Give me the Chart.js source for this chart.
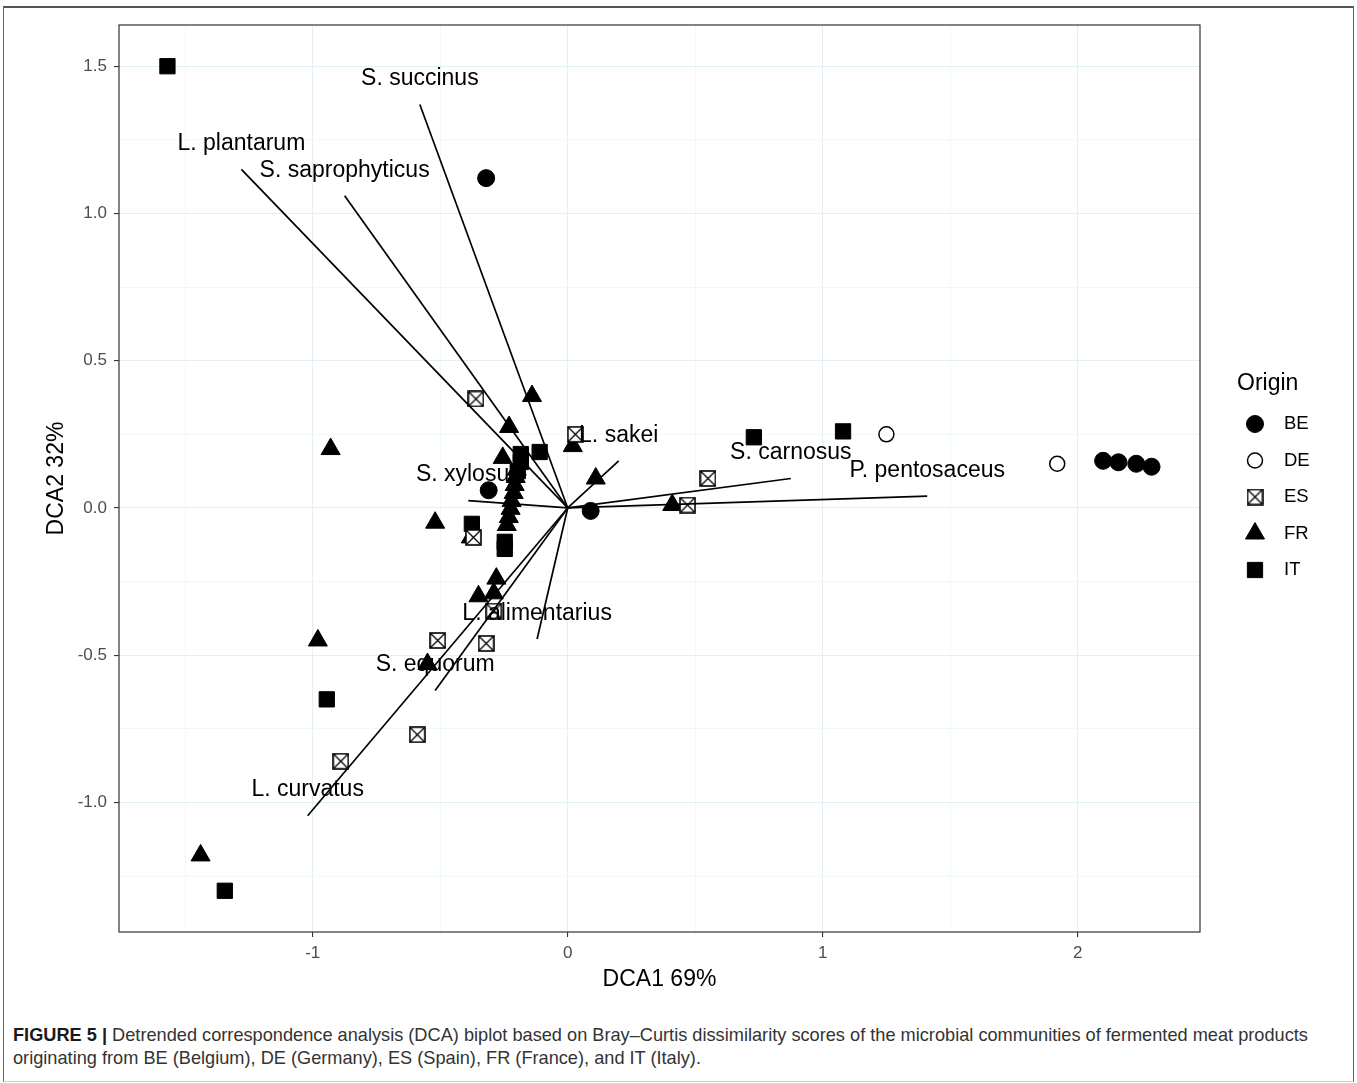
<!DOCTYPE html>
<html lang="en">
<head>
<meta charset="UTF-8">
<title>DCA biplot</title>
<script src="https://cdn.jsdelivr.net/npm/chart.js"></script>
<style>
    body {
        margin: 0;
        background: #fff;
        font-family: 'Liberation Sans', Arial, sans-serif;
    }

    #frame {
        position: absolute;
        left: 3px;
        top: 6px;
        width: 1351px;
        height: 1076px;
        border: 1px solid #666;
        border-top: 2px solid #555;
        border-bottom-color: #ccc;
        box-sizing: border-box;
    }

    #plot {
        position: absolute;
        left: 0;
        top: 0;
    }

    #caption {
        position: absolute;
        left: 13px;
        top: 1024px;
        font-size: 18.2px;
        line-height: 23px;
        color: #333;
        white-space: nowrap;
    }

    #caption b {
        color: #1a1a1a;
    }
</style>
</head>
<body>

<div id="frame"></div>
<canvas id="plot" width="1357" height="1005"></canvas>
<div id="caption"><b>FIGURE 5 |</b> Detrended correspondence analysis (DCA) biplot based on Bray–Curtis dissimilarity scores of the microbial communities of fermented meat products<br>originating from BE (Belgium), DE (Germany), ES (Spain), FR (France), and IT (Italy).</div>

<script>
    // sample scores per origin
    const beX = [-0.32, -0.31, 0.09, 2.10, 2.16, 2.23, 2.29];
    const beY = [1.12, 0.06, -0.01, 0.16, 0.155, 0.15, 0.14];

    const deX = [1.25, 1.92];
    const deY = [0.25, 0.15];

    const esX = [-0.36, 0.03, 0.55, 0.47, -0.37, -0.51, -0.32, -0.59, -0.89, -0.29];
    const esY = [0.37, 0.25, 0.10, 0.01, -0.10, -0.45, -0.46, -0.77, -0.86, -0.35];

    const frX = [-1.44, -0.98, -0.93, -0.52, -0.38, -0.55, -0.35, -0.29, -0.28, -0.14, -0.23, -0.255,
                 0.02, 0.11, 0.41, -0.20, -0.204, -0.208, -0.212, -0.22, -0.224, -0.231, -0.239];
    const frY = [-1.18, -0.45, 0.20, -0.05, -0.10, -0.53, -0.30, -0.29, -0.24, 0.38, 0.275, 0.17,
                 0.21, 0.10, 0.01, 0.13, 0.105, 0.078, 0.051, 0.024, -0.003, -0.031, -0.058];

    const itX = [-1.57, -1.345, -0.945, 0.73, 1.08, -0.11, -0.184, -0.376, -0.247, -0.247, -0.184, -0.196];
    const itY = [1.50, -1.30, -0.65, 0.24, 0.26, 0.19, 0.183, -0.054, -0.115, -0.139, 0.156, 0.125];

    // species vectors
    const species = ['L. plantarum', 'S. saprophyticus', 'S. succinus', 'L. sakei', 'S. carnosus',
                     'P. pentosaceus', 'S. xylosus', 'L. alimentarius', 'S. equorum', 'L. curvatus'];
    const vecX = [-1.28, -0.875, -0.58, 0.20, 0.875, 1.41, -0.39, -0.12, -0.52, -1.02];
    const vecY = [1.15, 1.06, 1.37, 0.16, 0.10, 0.04, 0.025, -0.445, -0.62, -1.045];

    const origins = ['BE', 'DE', 'ES', 'FR', 'IT'];
    const xTicks = [-1.5, -1, -0.5, 0, 0.5, 1, 1.5, 2];
    const yTicks = [-1.25, -1, -0.75, -0.5, -0.25, 0, 0.25, 0.5, 0.75, 1, 1.25, 1.5];

    const FONT = "'Liberation Sans', Arial, sans-serif";

    function boxCross(size) {
        const c = document.createElement('canvas');
        c.width = size;
        c.height = size;
        const g = c.getContext('2d');
        const p = 1;
        g.fillStyle = '#fff';
        g.fillRect(p, p, size - 2 * p, size - 2 * p);
        g.strokeStyle = '#000';
        g.lineWidth = 1.6;
        g.strokeRect(p, p, size - 2 * p, size - 2 * p);
        g.lineWidth = 1.3;
        g.beginPath();
        g.moveTo(p, p);
        g.lineTo(size - p, size - p);
        g.moveTo(size - p, p);
        g.lineTo(p, size - p);
        g.stroke();
        return c;
    }

    const esMark = boxCross(17);

    function pts(xs, ys) {
        return xs.map((x, i) => ({ x: x, y: ys[i] }));
    }

    const markStyles = {
        BE: { pointStyle: 'circle', radius: 8.5, bg: '#000', border: '#000', bw: 1 },
        DE: { pointStyle: 'circle', radius: 7.5, bg: '#fff', border: '#000', bw: 1.5 },
        ES: { pointStyle: esMark, radius: 8, bg: '#fff', border: '#000', bw: 1 },
        FR: { pointStyle: 'triangle', radius: 11, bg: '#000', border: '#000', bw: 1 },
        IT: { pointStyle: 'rect', radius: 10.8, bg: '#000', border: '#000', bw: 1 }
    };

    const groupData = {
        BE: pts(beX, beY),
        DE: pts(deX, deY),
        ES: pts(esX, esY),
        FR: pts(frX, frY),
        IT: pts(itX, itY)
    };

    const datasets = [];

    species.forEach((name, i) => {
        datasets.push({
            label: name,
            data: [{ x: 0, y: 0 }, { x: vecX[i], y: vecY[i] }],
            showLine: true,
            borderColor: '#000',
            borderWidth: 1.7,
            pointRadius: 0,
            order: 0
        });
    });

    origins.forEach(o => {
        const m = markStyles[o];
        datasets.push({
            label: o,
            data: groupData[o],
            pointStyle: m.pointStyle,
            pointRadius: m.radius,
            backgroundColor: m.bg,
            borderColor: m.border,
            borderWidth: m.bw,
            order: 1
        });
    });

    const isMajorX = v => Number.isInteger(v);
    const isMajorY = v => Math.abs(v * 2 - Math.round(v * 2)) < 1e-9;

    const decor = {
        id: 'decor',
        afterDatasetsDraw(chart) {
            const ctx = chart.ctx;
            const xs = chart.scales.x;
            const ys = chart.scales.y;
            const a = chart.chartArea;

            // species labels, nudged above the vector tip
            ctx.save();
            ctx.fillStyle = '#000';
            ctx.font = '23px ' + FONT;
            ctx.textAlign = 'center';
            ctx.textBaseline = 'middle';
            species.forEach((name, i) => {
                ctx.fillText(name, xs.getPixelForValue(vecX[i]), ys.getPixelForValue(vecY[i] + 0.087));
            });
            ctx.restore();

            // panel border
            ctx.save();
            ctx.strokeStyle = '#333';
            ctx.lineWidth = 1.2;
            ctx.strokeRect(a.left, a.top, a.right - a.left, a.bottom - a.top);
            ctx.restore();
        },
        afterDraw(chart) {
            const ctx = chart.ctx;
            const a = chart.chartArea;

            ctx.save();
            ctx.fillStyle = '#000';
            ctx.font = '23px ' + FONT;
            ctx.textAlign = 'center';
            ctx.textBaseline = 'middle';
            ctx.fillText('DCA1 69%', (a.left + a.right) / 2, 980);

            ctx.translate(57, (a.top + a.bottom) / 2);
            ctx.rotate(-Math.PI / 2);
            ctx.fillText('DCA2 32%', 0, 0);
            ctx.restore();

            // legend
            ctx.save();
            ctx.fillStyle = '#000';
            ctx.textBaseline = 'middle';
            ctx.textAlign = 'left';
            ctx.font = '23px ' + FONT;
            ctx.fillText('Origin', 1237, 384);
            ctx.font = '18.5px ' + FONT;
            origins.forEach((o, i) => {
                const m = markStyles[o];
                const y = 424 + i * 36.5;
                ctx.fillStyle = m.bg;
                ctx.strokeStyle = m.border;
                ctx.lineWidth = m.bw;
                Chart.helpers.drawPoint(ctx, {
                    pointStyle: m.pointStyle,
                    radius: m.radius,
                    rotation: 0,
                    borderWidth: m.bw
                }, 1255, y);
                ctx.fillStyle = '#000';
                ctx.fillText(o, 1284, y);
            });
            ctx.restore();
        }
    };

    const ctx = document.getElementById('plot').getContext('2d');
    new Chart(ctx, {
        type: 'scatter',
        data: { datasets: datasets },
        options: {
            responsive: false,
            animation: false,
            layout: { padding: { top: 25, right: 157, left: 0, bottom: 0 } },
            plugins: {
                legend: { display: false },
                tooltip: { enabled: false }
            },
            scales: {
                x: {
                    type: 'linear',
                    min: -1.76,
                    max: 2.48,
                    afterBuildTicks: s => { s.ticks = xTicks.map(v => ({ value: v })); },
                    afterFit: s => { s.height = 73; },
                    border: { display: false },
                    grid: {
                        color: c => isMajorX(c.tick.value) ? '#e3f0f3' : '#eef6f8',
                        lineWidth: c => isMajorX(c.tick.value) ? 1.1 : 0.8,
                        tickColor: c => isMajorX(c.tick.value) ? '#333' : 'rgba(0,0,0,0)',
                        tickLength: 5
                    },
                    ticks: {
                        autoSkip: false,
                        maxRotation: 0,
                        padding: 6,
                        color: '#4d4d4d',
                        font: { family: FONT, size: 17 },
                        callback: v => isMajorX(v) ? String(v) : ''
                    }
                },
                y: {
                    type: 'linear',
                    min: -1.44,
                    max: 1.64,
                    afterBuildTicks: s => { s.ticks = yTicks.map(v => ({ value: v })); },
                    afterFit: s => { s.width = 119; },
                    border: { display: false },
                    grid: {
                        color: c => isMajorY(c.tick.value) ? '#e3f0f3' : '#eef6f8',
                        lineWidth: c => isMajorY(c.tick.value) ? 1.1 : 0.8,
                        tickColor: c => isMajorY(c.tick.value) ? '#333' : 'rgba(0,0,0,0)',
                        tickLength: 5
                    },
                    ticks: {
                        autoSkip: false,
                        padding: 7,
                        color: '#4d4d4d',
                        font: { family: FONT, size: 17 },
                        callback: v => isMajorY(v) ? v.toFixed(1) : ''
                    }
                }
            }
        },
        plugins: [decor]
    });
</script>

</body>
</html>
